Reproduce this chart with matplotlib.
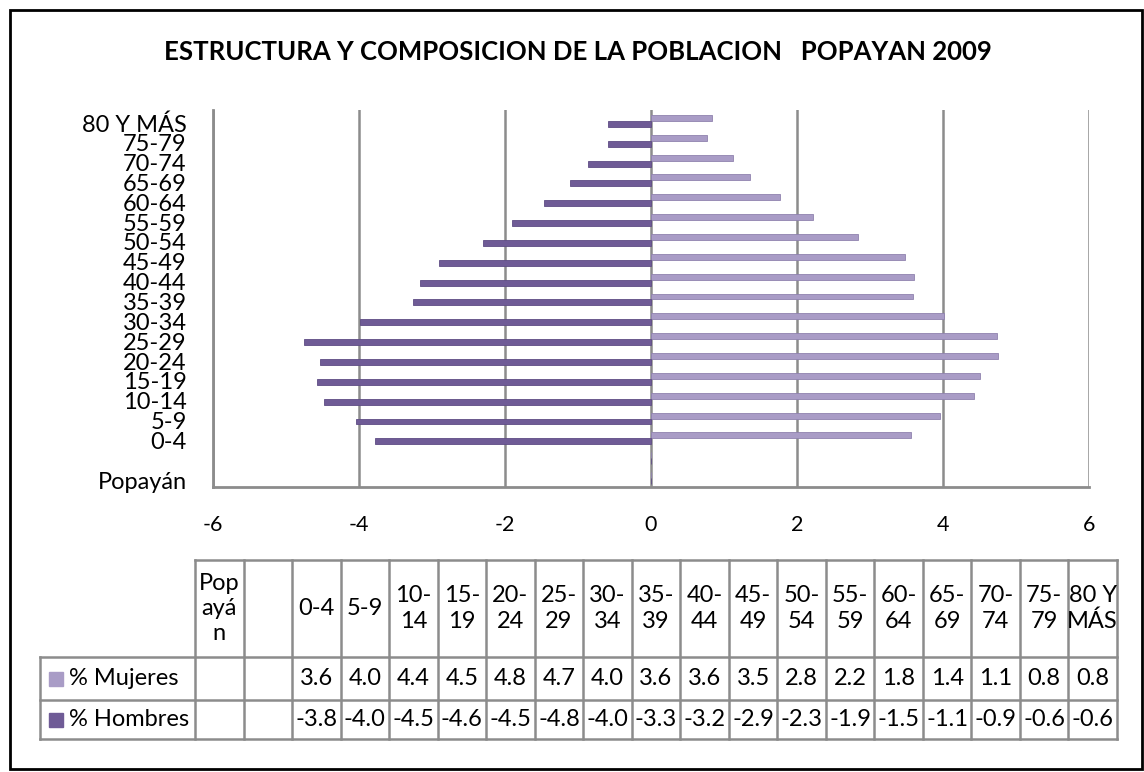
import matplotlib.pyplot as plt
import matplotlib.patches as mpatches
from matplotlib.transforms import ScaledTranslation
import numpy as np

plt.rcParams['font.family'] = ['Lato', 'DejaVu Sans']

# Datos (porcentajes)
categorias = ['Popayán', '', '0-4', '5-9', '10-14', '15-19', '20-24', '25-29', '30-34',
              '35-39', '40-44', '45-49', '50-54', '55-59', '60-64', '65-69',
              '70-74', '75-79', '80 Y MÁS']
encabezados = ['Pop\nayá\nn', '', '0-4', '5-9', '10-\n14', '15-\n19', '20-\n24', '25-\n29',
               '30-\n34', '35-\n39', '40-\n44', '45-\n49', '50-\n54', '55-\n59',
               '60-\n64', '65-\n69', '70-\n74', '75-\n79', '80 Y\nMÁS']
mujeres = [None, None, 3.56, 3.96, 4.42, 4.51, 4.76, 4.74, 4.02, 3.59, 3.6, 3.48,
           2.84, 2.22, 1.77, 1.36, 1.12, 0.77, 0.84]
hombres = [None, None, -3.78, -4.04, -4.48, -4.58, -4.54, -4.76, -3.98, -3.26, -3.16,
           -2.9, -2.3, -1.9, -1.46, -1.11, -0.86, -0.59, -0.59]
xticks = [-6, -4, -2, 0, 2, 4, 6]

col_mujeres = '#A99CC6'
col_hombres = '#6F5B96'
gris = '#8C8C8C'

fig = plt.figure(figsize=(11.44, 7.72), dpi=100)

# borde exterior
fig.patches.append(mpatches.Rectangle((10 / 1144, 3 / 772), 1132 / 1144, 759 / 772,
                                      transform=fig.transFigure, fill=False,
                                      edgecolor='black', lw=2))

fig.text(0.505, 0.9326, 'ESTRUCTURA Y COMPOSICION DE LA POBLACION   POPAYAN 2009',
         ha='center', va='center', fontsize=18.5, fontweight='bold')

# grafico
ax = fig.add_axes([213 / 1144, 285 / 772, 876 / 1144, 377 / 772])
y = np.arange(len(categorias))
m = np.array([v if v is not None else 0 for v in mujeres])
h = np.array([v if v is not None else 0 for v in hombres])
ax.barh(y + 0.1, m, height=0.3, color=col_mujeres, edgecolor='#8F82AE', lw=0.6, zorder=3)
ax.barh(y - 0.2, h, height=0.3, color=col_hombres, edgecolor='#5E4C84', lw=0.6, zorder=3)
ax.set_xlim(-6, 6)
ax.set_ylim(-0.5, len(categorias) - 0.5)
ax.set_xticks(xticks)
ax.set_xticklabels([str(t) for t in xticks], fontsize=15.5)
ax.set_yticks(y)
ax.set_yticklabels(categorias, fontsize=17)
ax.tick_params(axis='x', length=0, pad=20)
ax.tick_params(axis='y', length=0, pad=19)
bajar = ScaledTranslation(0, -3 / 100, fig.dpi_scale_trans)
for lab in ax.get_yticklabels():
    lab.set_transform(lab.get_transform() + bajar)
ax.grid(axis='x', color=gris, lw=1.8, zorder=1)
for s in ['top', 'right']:
    ax.spines[s].set_visible(False)
for s in ['left', 'bottom']:
    ax.spines[s].set_color(gris)
    ax.spines[s].set_linewidth(2)

# tabla de datos
n = len(categorias)
hw = 155 / 48.53
filas = [0, 39, 82, 179]
tab = fig.add_axes([40 / 1144, 33 / 772, 1077 / 1144, 179 / 772])
tab.set_xlim(-hw, n)
tab.set_ylim(0, 179)
tab.axis('off')
for j in range(n + 1):
    tab.plot([j, j], [0, filas[3]], color=gris, lw=1.8, clip_on=False)
tab.plot([-hw, -hw], [0, filas[2]], color=gris, lw=1.8, clip_on=False)
for k in range(3):
    tab.plot([-hw, n], [filas[k], filas[k]], color=gris, lw=1.8, clip_on=False)
tab.plot([0, n], [filas[3], filas[3]], color=gris, lw=1.8, clip_on=False)

for j, t in enumerate(encabezados):
    tab.text(j + 0.5, (filas[2] + filas[3]) / 2, t, ha='center', va='center',
             fontsize=17, linespacing=1.25)

series = [('% Mujeres', mujeres, col_mujeres, (filas[1] + filas[2]) / 2),
          ('% Hombres', hombres, col_hombres, (filas[0] + filas[1]) / 2)]
for nombre, vals, col, yc in series:
    tab.plot(-hw + 0.32, yc, marker='s', ms=9.5, color=col, clip_on=False)
    tab.text(-hw + 0.6, yc, nombre, ha='left', va='center', fontsize=17)
    for j, v in enumerate(vals):
        if v is not None:
            tab.text(j + 0.5, yc, f'{v:.1f}', ha='center', va='center', fontsize=17)

fig.savefig('out.png', dpi=100)
